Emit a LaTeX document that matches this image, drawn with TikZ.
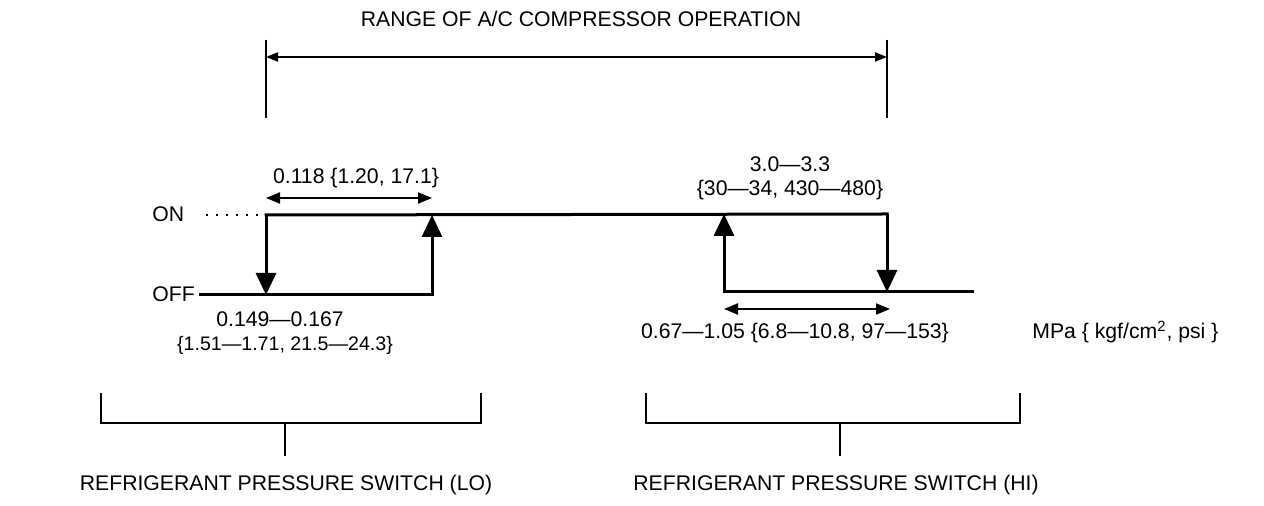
\documentclass[tikz,border=0pt]{standalone}
\usepackage{fontspec}
\setmainfont{Liberation Sans}
\usetikzlibrary{arrows.meta}
\begin{document}
\begin{tikzpicture}[x=0.5pt,y=-0.5pt,
  txt/.style={inner sep=0pt,font=\fontsize{10.6}{12}\selectfont},
  thickline/.style={line width=1.5pt,line cap=rect},
  loopline/.style={line width=1.5pt,-{Triangle[length=11pt,width=10pt]}},
  dim/.style={line width=1pt,{Triangle[length=7pt,width=5.5pt]}-{Triangle[length=7pt,width=5.5pt]}},
  thin/.style={line width=0.8pt}]
\useasboundingbox (0,0) rectangle (1264,506);
% top range
\node[txt,anchor=base] (title) at (581,27) {RANGE OF A/C COMPRESSOR OPERATION};
\coordinate (rlt) at (266,40); \coordinate (rlb) at (266,118);
\coordinate (rrt) at (887,40); \coordinate (rrb) at (887,118);
\coordinate (ral) at (266,57); \coordinate (rar) at (887,57);
\draw[thin] (rlt) -- (rlb);
\draw[thin] (rrt) -- (rrb);
\draw[line width=1pt,{Triangle[length=6pt,width=4.5pt]}-{Triangle[length=6pt,width=4.5pt]}] (ral) -- (rar);
% levels
\node[txt,anchor=base west] (on) at (152,222) {ON};
\node[txt,anchor=base west] (off) at (152,302) {OFF};
\coordinate (dotA) at (206,215);
\coordinate (loA) at (266,215); \coordinate (loB) at (432,215);
\coordinate (loC) at (266,295); \coordinate (loD) at (432,295);
\coordinate (offstart) at (200,295);
\coordinate (hiA) at (724,214); \coordinate (hiB) at (887,214);
\coordinate (hiC) at (724,292); \coordinate (hiD) at (887,292);
\coordinate (hiend) at (972,292);
\draw[line width=1pt,dash pattern=on 1.2pt off 3.8pt] (dotA) -- (loA);
\draw[thickline] (loA) -- (hiB);
\draw[loopline] (loA) -- (loC);
\draw[thickline] (offstart) -- (loD);
\draw[loopline] (loD) -- (loB);
\draw[loopline] (hiC) -- (hiA);
\draw[loopline] (hiB) -- (hiD);
\draw[thickline] (hiC) -- (hiend);
% dims
\node[txt,anchor=base] (loh) at (356,184) {0.118 \{1.20, 17.1\}};
\coordinate (lohA) at (266,198); \coordinate (lohB) at (432,198);
\draw[dim] (lohA) -- (lohB);
\node[txt,anchor=base] (lon1) at (280,327) {0.149—0.167};
\node[txt,anchor=base,font=\fontsize{9.8}{12}\selectfont] (lon2) at (285,351) {\{1.51—1.71, 21.5—24.3\}};
\node[txt,anchor=north,align=center] (hin) at (790,156) {3.0—3.3\\\{30—34, 430—480\}};
\coordinate (hihA) at (724,309); \coordinate (hihB) at (890,309);
\draw[dim] (hihA) -- (hihB);
\node[txt,anchor=base] (hif) at (795,339) {0.67—1.05 \{6.8—10.8, 97—153\}};
\node[txt,anchor=base west] (unit) at (1032,339) {MPa \{ kgf/cm\textsuperscript{2}, psi \}};
% brackets
\coordinate (b1a) at (101,393); \coordinate (b1b) at (101,423);
\coordinate (b1c) at (481,423); \coordinate (b1d) at (481,393);
\coordinate (b1s) at (285,423); \coordinate (b1e) at (285,456);
\draw[thin] (b1a) -- (b1b) -- (b1c) -- (b1d);
\draw[thin] (b1s) -- (b1e);
\node[txt,anchor=base] (lo) at (286,491) {REFRIGERANT PRESSURE SWITCH (LO)};
\coordinate (b2a) at (646,393); \coordinate (b2b) at (646,423);
\coordinate (b2c) at (1020,423); \coordinate (b2d) at (1020,393);
\coordinate (b2s) at (840,423); \coordinate (b2e) at (840,456);
\draw[thin] (b2a) -- (b2b) -- (b2c) -- (b2d);
\draw[thin] (b2s) -- (b2e);
\node[txt,anchor=base] (hi) at (836,491) {REFRIGERANT PRESSURE SWITCH (HI)};
\end{tikzpicture}
\end{document}
